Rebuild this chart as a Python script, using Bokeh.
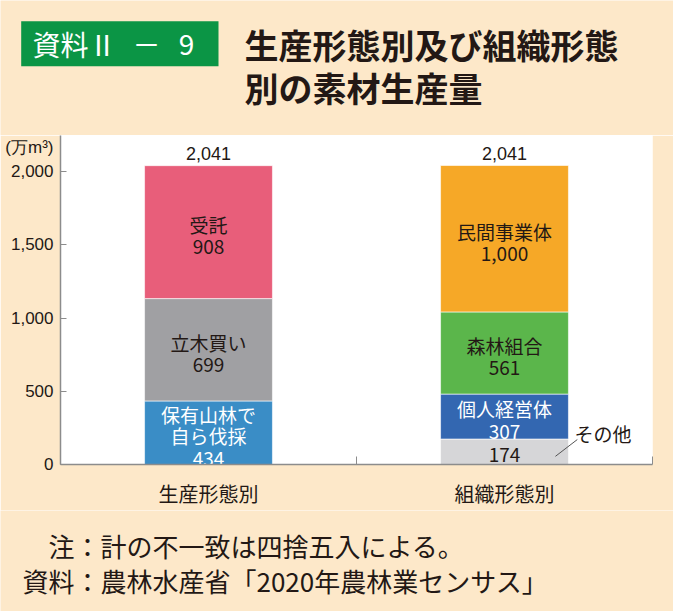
from bokeh.plotting import figure
from bokeh.layouts import column
from bokeh.models import ColumnDataSource, FixedTicker, NumeralTickFormatter, Range1d
from bokeh.core.properties import value
from bokeh.embed import file_html
from bokeh.resources import INLINE

# ---- data ----
groups = ["生産形態別", "組織形態別"]
prod_names = ["保有山林で\n自ら伐採", "立木買い", "受託"]
prod_values = [434, 699, 908]
org_names = ["その他", "個人経営体", "森林組合", "民間事業体"]
org_values = [174, 307, 561, 1000]
totals = [2041, 2041]
y_ticks = [0, 500, 1000, 1500, 2000]
unit_label = "(万m³)"
badge_parts = ["資料Ⅱ", "－", "9"]
title_lines = ["生産形態別及び組織形態", "別の素材生産量"]
note_lines = ["注：計の不一致は四捨五入による。", "資料：農林水産省「2020年農林業センサス」"]

# ---- styles ----
prod_colors = ["#3A8DC6", "#A0A0A3", "#E85E7A"]
org_colors = ["#D6D6D8", "#3367B1", "#5BB64B", "#F6A827"]
prod_text_colors = ["white", "#231815", "#231815"]
org_text_colors = ["#231815", "white", "#231815", "#231815"]
org_name_inside = [False, True, True, True]
BG = "#FDE8C9"
DARK = "#231815"
GRAY = "#8C8C8C"
JP = "Noto Sans CJK JP"
BAR_W = 0.432
Y_MAX = 2247
UNIT_Y = 2166  # vertical position of the unit label on the value axis
W = 673


def blank_fig(y_top, y_bottom):
    h = y_bottom - y_top
    f = figure(frame_width=W, frame_height=h, x_range=Range1d(0, W),
               y_range=Range1d(y_bottom, y_top), output_backend="svg",
               toolbar_location=None, x_axis_type=None, y_axis_type=None,
               min_border=0)
    if "frame_align" in f.properties():
        f.frame_align = False
    f.outline_line_color = None
    f.background_fill_color = BG
    f.border_fill_color = BG
    return f


# ---- header ----
head = blank_fig(0, 135)
head.quad(left=[20.7], right=[218], top=[20.7], bottom=[65.7],
          fill_color="#0B9545", line_color=None)
head.text(x=[32, 146, 186], y=[43.5, 43.5, 43.5], text=badge_parts, text_color="white",
          text_font=value(JP), text_font_size="28px", text_baseline="middle",
          text_align=["left", "center", "center"])
head.text(x=[244, 244], y=[44, 87], text=title_lines, text_color=DARK,
          text_font=value(JP), text_font_size="34px", text_font_style="bold",
          text_baseline="middle")

# ---- main chart ----
seg = dict(x=[], bottom=[], top=[], mid=[], color=[], label=[], tcolor=[])
sets = [
    (prod_names, prod_values, prod_colors, prod_text_colors, [True] * 3),
    (org_names, org_values, org_colors, org_text_colors, org_name_inside),
]
for gi, (names, vals, cols, tcols, inside) in enumerate(sets):
    b = 0
    for n, v, c, t, ins in zip(names, vals, cols, tcols, inside):
        seg["x"].append(gi + 0.5)
        seg["bottom"].append(b)
        seg["top"].append(b + v)
        seg["mid"].append(b + v / 2)
        seg["color"].append(c)
        seg["label"].append(f"{n}\n{v:,}" if ins else f"{v:,}")
        seg["tcolor"].append(t)
        b += v
src = ColumnDataSource(seg)

p = figure(width=W, height=375, x_range=Range1d(0, len(groups)), y_range=Range1d(0, Y_MAX),
           output_backend="svg", toolbar_location=None,
           min_border_left=60, min_border_right=21, min_border_top=0, min_border_bottom=42)
p.background_fill_color = "white"
p.border_fill_color = BG
p.outline_line_color = None
p.xgrid.visible = False
p.ygrid.visible = False

p.vbar(x="x", bottom="bottom", top="top", width=BAR_W, fill_color="color",
       line_color="white", line_width=0.6, source=src)
p.text(x="x", y="mid", text="label", text_color="tcolor", text_font=value(JP),
       text_font_size="19px", text_align="center", text_baseline="middle",
       text_line_height=0.79, y_offset=3, source=src)

# totals
p.text(x=[i + 0.5 for i in range(len(groups))], y=totals,
       text=[f"{t:,}" for t in totals], text_color=DARK,
       text_font=value("Liberation Sans"), text_font_size="18px",
       text_align="center", text_baseline="middle", y_offset=-12)

# "その他" outside label with leader line
right_edge = 1 + 0.5 + BAR_W / 2
p.text(x=[right_edge], y=[org_values[0]], text=[org_names[0]], text_color=DARK,
       text_font=value(JP), text_font_size="19px", text_align="left",
       text_baseline="middle", x_offset=6, y_offset=-6)
p.segment(x0=[right_edge - 0.044], y0=[org_values[0] * 0.32],
          x1=[right_edge + 0.03], y1=[org_values[0] * 0.98],
          line_color="#555555", line_width=1)

# value axis (unit label shown as an extra, tick-less label)
ya = p.yaxis[0]
ya.ticker = FixedTicker(ticks=y_ticks + [UNIT_Y], minor_ticks=y_ticks)
ya.formatter = NumeralTickFormatter(format="0,0")
ya.major_label_overrides = {UNIT_Y: unit_label}
ya.major_tick_in = 0
ya.major_tick_out = 0
ya.major_tick_line_color = None
ya.minor_tick_in = 6
ya.minor_tick_out = 0
ya.minor_tick_line_color = GRAY
ya.axis_line_color = GRAY
ya.axis_line_width = 1.5
ya.major_label_standoff = 7
ya.major_label_text_font = "Liberation Sans"
ya.major_label_text_font_size = "17px"
ya.major_label_text_color = DARK

# category axis
xa = p.xaxis[0]
xa.ticker = FixedTicker(ticks=[i + 0.5 for i in range(len(groups))],
                        minor_ticks=list(range(len(groups) + 1)))
xa.major_label_overrides = {i + 0.5: g for i, g in enumerate(groups)}
xa.major_tick_in = 0
xa.major_tick_out = 0
xa.major_tick_line_color = None
xa.minor_tick_in = 8
xa.minor_tick_out = 0
xa.minor_tick_line_color = GRAY
xa.axis_line_color = GRAY
xa.axis_line_width = 1.5
xa.major_label_standoff = 14
xa.major_label_text_font = JP
xa.major_label_text_font_size = "20px"
xa.major_label_text_color = DARK

# ---- footer ----
foot = blank_fig(510, 611)
foot.text(x=[48, 22], y=[545, 580], text=note_lines, text_color=DARK,
          text_font=value(JP), text_font_size="26px", text_baseline="middle")

page = column(head, p, foot, spacing=0)
open("out.html", "w").write(file_html(page, INLINE))
